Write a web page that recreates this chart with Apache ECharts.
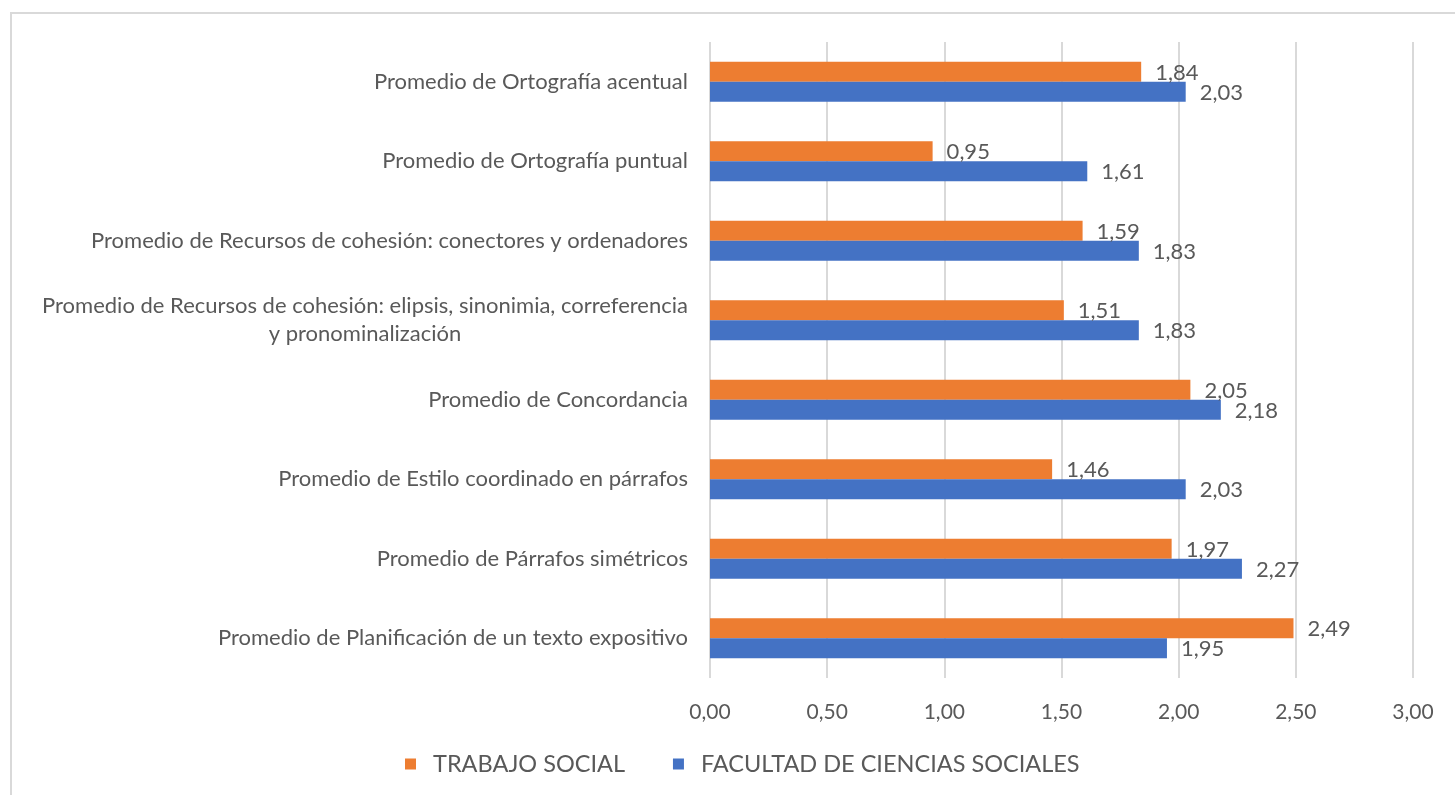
<!DOCTYPE html>
<html>
<head>
<meta charset="utf-8">
<script src="https://cdn.jsdelivr.net/npm/echarts@6/dist/echarts.min.js"></script>
<style>
	html, body {
		margin: 0;
		padding: 0;
		background: #fff;
	}
	.frame {
		position: absolute;
		left: 10px;
		top: 12px;
		width: 1460px;
		height: 800px;
		border-left: 2px solid #d9d9d9;
		border-top: 2px solid #d9d9d9;
	}
	#chart {
		position: absolute;
		left: 0;
		top: 0;
		width: 1455px;
		height: 795px;
	}
</style>
</head>
<body>
<div class="frame"></div>
<div id="chart"></div>
<script>
	// categorías de abajo hacia arriba (como en el eje del gráfico)
	const categories = [
		"Promedio de Planificación de un texto expositivo",
		"Promedio de Párrafos simétricos",
		"Promedio de Estilo coordinado en párrafos",
		"Promedio de Concordancia",
		"Promedio de Recursos de cohesión: elipsis, sinonimia, correferencia\ny pronominalización",
		"Promedio de Recursos de cohesión: conectores y ordenadores",
		"Promedio de Ortografía puntual",
		"Promedio de Ortografía acentual"
	];
	const trabajoSocial = [2.49, 1.97, 1.46, 2.05, 1.51, 1.59, 0.95, 1.84];
	const facultad = [1.95, 2.27, 2.03, 2.18, 1.83, 1.83, 1.61, 2.03];
	const seriesNames = ["TRABAJO SOCIAL", "FACULTAD DE CIENCIAS SOCIALES"];

	const FONT = "Lato";
	const TEXT = "#595959";

	// formato con coma decimal
	const fmt = v => Number(v).toFixed(2).replace(".", ",");

	const chart = echarts.init(document.getElementById("chart"));

	const labelStyle = {
		show: true,
		position: "right",
		distance: 14,
		offset: [0, 1],
		color: TEXT,
		fontFamily: FONT,
		fontSize: 22,
		formatter: p => fmt(p.value)
	};

	chart.setOption({
		animation: false,
		textStyle: { fontFamily: FONT },
		grid: {
			left: 710,
			right: 42,
			top: 42,
			bottom: 117,
			containLabel: false
		},
		legend: {
			data: seriesNames,
			bottom: 14,
			left: 400,
			itemWidth: 11,
			itemHeight: 11,
			itemGap: 48,
			icon: "rect",
			textStyle: {
				color: TEXT,
				fontFamily: FONT,
				fontSize: 23.5,
				padding: [0, 0, 0, 12]
			}
		},
		xAxis: {
			type: "value",
			min: 0,
			max: 3,
			interval: 0.5,
			axisLine: { show: false },
			axisTick: { show: false },
			splitLine: {
				lineStyle: { color: "#d9d9d9", width: 2 }
			},
			axisLabel: {
				color: TEXT,
				fontFamily: FONT,
				fontSize: 21,
				margin: 24,
				formatter: v => fmt(v)
			}
		},
		yAxis: {
			type: "category",
			data: categories,
			axisLine: { show: false },
			axisTick: { show: false },
			axisLabel: {
				color: TEXT,
				fontFamily: FONT,
				fontSize: 22,
				margin: 22,
				lineHeight: 28,
				formatter: v => {
					if (v.indexOf("\n") < 0) return v;
					return v
						.split("\n")
						.map(s => "{c|" + s + "}")
						.join("\n");
				},
				rich: {
					c: {
						width: 646,
						align: "center",
						color: TEXT,
						fontFamily: FONT,
						fontSize: 22,
						lineHeight: 28
					}
				}
			}
		},
		series: [
			{
				name: seriesNames[0],
				type: "bar",
				data: trabajoSocial,
				barWidth: 20,
				barGap: "0%",
				barCategoryGap: "50%",
				itemStyle: { color: "#ED7D31" },
				label: labelStyle
			},
			{
				name: seriesNames[1],
				type: "bar",
				data: facultad,
				barWidth: 20,
				barGap: "0%",
				barCategoryGap: "50%",
				itemStyle: { color: "#4472C4" },
				label: labelStyle
			}
		]
	});

	window.addEventListener("resize", () => chart.resize());
</script>
</body>
</html>
